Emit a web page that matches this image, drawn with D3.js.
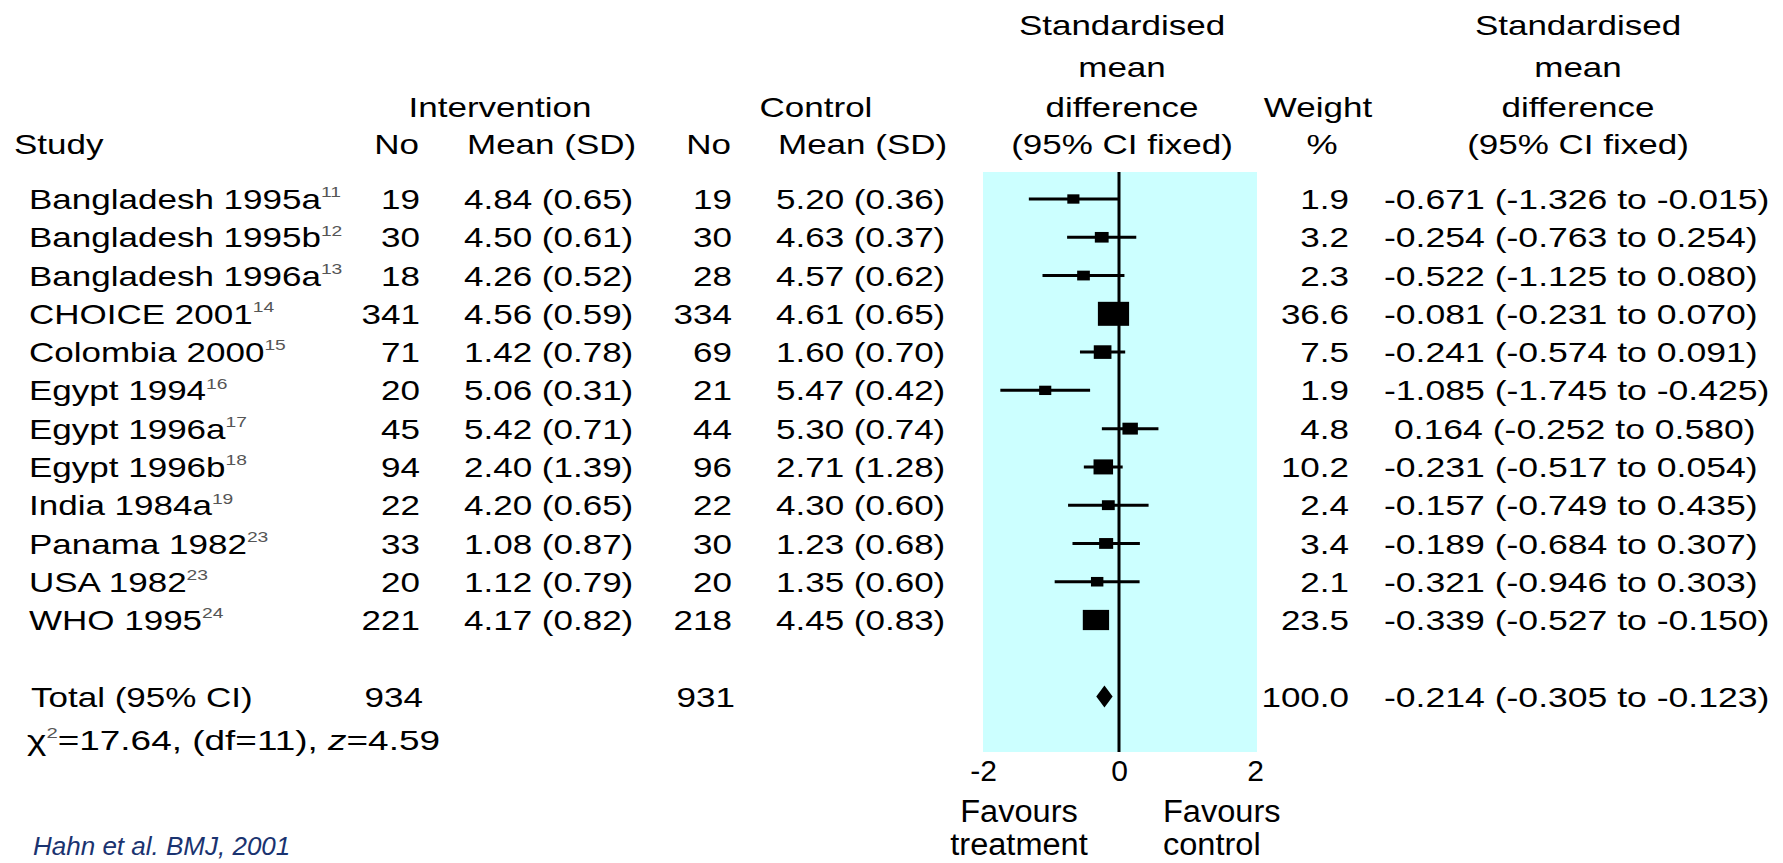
<!DOCTYPE html>
<html>
<head>
<meta charset="utf-8">
<script src="https://cdn.jsdelivr.net/npm/d3@7/dist/d3.min.js"></script>
<style>
  html, body { margin: 0; padding: 0; background: #fff; }
  svg { display: block; }
  text { font-family: "Liberation Sans", Arial, sans-serif; fill: #000; white-space: pre; }
</style>
</head>
<body>
<svg id="chart" width="1783" height="863"></svg>
<script>
const studies = ["Bangladesh 1995a", "Bangladesh 1995b", "Bangladesh 1996a", "CHOICE 2001",
  "Colombia 2000", "Egypt 1994", "Egypt 1996a", "Egypt 1996b", "India 1984a",
  "Panama 1982", "USA 1982", "WHO 1995"];
const refs = ["11", "12", "13", "14", "15", "16", "17", "18", "19", "23", "23", "24"];

const intN = [19, 30, 18, 341, 71, 20, 45, 94, 22, 33, 20, 221];
const intMean = [4.84, 4.50, 4.26, 4.56, 1.42, 5.06, 5.42, 2.40, 4.20, 1.08, 1.12, 4.17];
const intSD = [0.65, 0.61, 0.52, 0.59, 0.78, 0.31, 0.71, 1.39, 0.65, 0.87, 0.79, 0.82];
const ctrlN = [19, 30, 28, 334, 69, 21, 44, 96, 22, 30, 20, 218];
const ctrlMean = [5.20, 4.63, 4.57, 4.61, 1.60, 5.47, 5.30, 2.71, 4.30, 1.23, 1.35, 4.45];
const ctrlSD = [0.36, 0.37, 0.62, 0.65, 0.70, 0.42, 0.74, 1.28, 0.60, 0.68, 0.60, 0.83];

const weight = [1.9, 3.2, 2.3, 36.6, 7.5, 1.9, 4.8, 10.2, 2.4, 3.4, 2.1, 23.5];
const smd = [-0.671, -0.254, -0.522, -0.081, -0.241, -1.085, 0.164, -0.231, -0.157, -0.189, -0.321, -0.339];
const ciLow = [-1.326, -0.763, -1.125, -0.231, -0.574, -1.745, -0.252, -0.517, -0.749, -0.684, -0.946, -0.527];
const ciHigh = [-0.015, 0.254, 0.080, 0.070, 0.091, -0.425, 0.580, 0.054, 0.435, 0.307, 0.303, -0.150];

const total = { intN: 934, ctrlN: 931, weight: 100.0, smd: -0.214, lo: -0.305, hi: -0.123 };
const axisTicks = [-2, 0, 2];

// layout
const F = 28, SX = 1.25;
const svg = d3.select("#chart");

const x = d3.scaleLinear().domain([-2, 2]).range([983, 1255]);
const y = d3.scaleLinear().domain([0, 11]).range([199, 620]);
const boxH = d3.scaleSqrt().domain([0, 36.6]).range([5, 24]);
const panelTop = 172, panelBottom = 752;

function label(g, px, py, str, anchor = "start", size = F, sx = SX) {
  return g.append("text")
    .attr("transform", `translate(${px},${py}) scale(${sx},1)`)
    .attr("text-anchor", anchor)
    .attr("font-size", size)
    .text(str);
}
const base = (cy, size = F) => cy + size * 0.36;

// panel background + zero line
svg.append("rect")
  .attr("x", x(-2)).attr("y", panelTop)
  .attr("width", x(2) - x(-2) + 2).attr("height", panelBottom - panelTop)
  .attr("fill", "#ccffff");
svg.append("line")
  .attr("x1", x(0)).attr("x2", x(0))
  .attr("y1", panelTop).attr("y2", panelBottom)
  .attr("stroke", "#000").attr("stroke-width", 3);

// headers
const head = svg.append("g");
const hl = [35, 77, 117, 154];
["Standardised", "mean", "difference", "(95% CI fixed)"].forEach((s, i) => {
  label(head, 1122, hl[i], s, "middle");
  label(head, 1578, hl[i], s, "middle");
});
label(head, 1318, hl[2], "Weight", "middle");
label(head, 1322, hl[3], "%", "middle");
label(head, 500, hl[2], "Intervention", "middle");
label(head, 816, hl[2], "Control", "middle");
label(head, 14, hl[3], "Study");
label(head, 419, hl[3], "No", "end");
label(head, 467, hl[3], "Mean (SD)");
label(head, 731, hl[3], "No", "end");
label(head, 778, hl[3], "Mean (SD)");

// rows
const rows = svg.append("g");
const fix = (v, n) => v.toFixed(n);
const effStr = (m, l, h) => `${m < 0 ? "" : " "}${fix(m, 3)} (${fix(l, 3)} to ${fix(h, 3)})`;
const SXE = 1.27;

studies.forEach((s, i) => {
  const b = base(y(i));
  const t = label(rows, 29, b, s);
  t.append("tspan").attr("font-size", F * 0.55).attr("dy", -F * 0.42).attr("fill", "#555").text(refs[i]);
  label(rows, 420, b, String(intN[i]), "end");
  label(rows, 464, b, `${fix(intMean[i], 2)} (${fix(intSD[i], 2)})`);
  label(rows, 732, b, String(ctrlN[i]), "end");
  label(rows, 776, b, `${fix(ctrlMean[i], 2)} (${fix(ctrlSD[i], 2)})`);
  label(rows, 1349, b, weight[i].toFixed(1), "end");
  label(rows, 1384, b, effStr(smd[i], ciLow[i], ciHigh[i]), "start", F, SXE);
});

// CI lines and boxes
const marks = svg.append("g");
marks.selectAll("line.ci").data(smd).enter().append("line")
  .attr("class", "ci")
  .attr("x1", (d, i) => x(ciLow[i])).attr("x2", (d, i) => x(ciHigh[i]))
  .attr("y1", (d, i) => y(i)).attr("y2", (d, i) => y(i))
  .attr("stroke", "#000").attr("stroke-width", 3);
marks.selectAll("rect.box").data(smd).enter().append("rect")
  .attr("class", "box")
  .attr("x", (d, i) => x(d) - boxH(weight[i]) * 0.65)
  .attr("y", (d, i) => y(i) - boxH(weight[i]) / 2)
  .attr("width", (d, i) => boxH(weight[i]) * 1.3)
  .attr("height", (d, i) => boxH(weight[i]))
  .attr("fill", "#000");

// total row
const yt = y(13);
const bt = base(yt);
label(rows, 31, bt, "Total (95% CI)");
label(rows, 423, bt, String(total.intN), "end");
label(rows, 735, bt, String(total.ctrlN), "end");
label(rows, 1349, bt, total.weight.toFixed(1), "end");
label(rows, 1384, bt, effStr(total.smd, total.lo, total.hi), "start", F, SXE);
marks.append("path")
  .attr("d", `M${x(total.lo) - 2},${yt} L${x(total.smd)},${yt - 11} L${x(total.hi) + 2},${yt} L${x(total.smd)},${yt + 11} Z`)
  .attr("fill", "#000");

// heterogeneity line
const chi = label(rows, 27, base(740), "\u03c7", "start", F, 1.32);
chi.append("tspan").attr("font-size", F * 0.55).attr("dy", -F * 0.42).attr("fill", "#555").text("2");
chi.append("tspan").attr("dy", F * 0.42).text("=17.64, (df=11), ");
chi.append("tspan").attr("font-style", "italic").text("z");
chi.append("tspan").text("=4.59");

// axis
const axis = svg.append("g")
  .attr("transform", `translate(0,${panelBottom})`)
  .call(d3.axisBottom(x).tickValues(axisTicks).tickSize(0).tickPadding(8).tickFormat(d3.format("d")));
axis.select(".domain").remove();
axis.selectAll("text")
  .attr("font-size", 30).attr("fill", "#000")
  .attr("font-family", "'Liberation Sans', Arial, sans-serif")
  .text(d => d < 0 ? "-" + Math.abs(d) : String(d));

const fav = svg.append("g");
label(fav, 1019, 822, "Favours", "middle", 31, 1.05);
label(fav, 1019, 855, "treatment", "middle", 31, 1.05);
label(fav, 1163, 822, "Favours", "start", 31, 1.05);
label(fav, 1163, 855, "control", "start", 31, 1.05);

// source
svg.append("text")
  .attr("x", 33).attr("y", 855)
  .attr("font-size", 26).attr("font-style", "italic")
  .style("fill", "#1a3370")
  .text("Hahn et al. BMJ, 2001");
</script>
</body>
</html>
